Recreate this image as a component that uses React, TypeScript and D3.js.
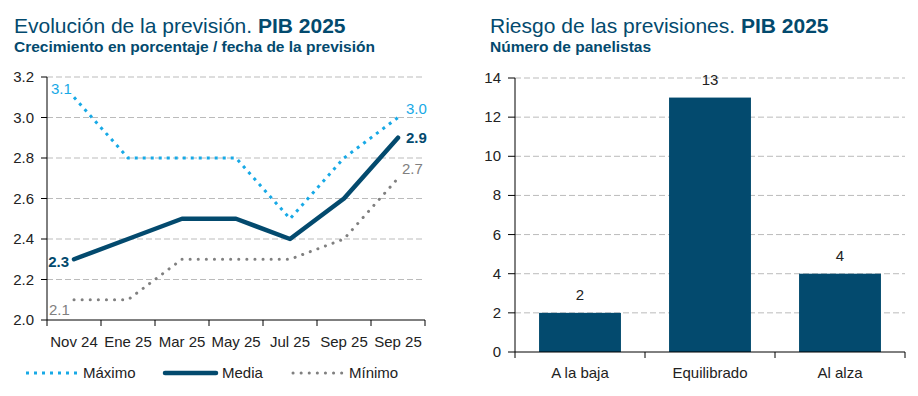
import React from 'react'
import * as d3 from 'd3'

// left chart: forecast evolution
const fechas = ['Nov 24', 'Ene 25', 'Mar 25', 'May 25', 'Jul 25', 'Sep 25', 'Sep 25 ']
const maximo = [3.1, 2.8, 2.8, 2.8, 2.5, 2.8, 3.0]
const media = [2.3, 2.4, 2.5, 2.5, 2.4, 2.6, 2.9]
const minimo = [2.1, 2.1, 2.3, 2.3, 2.3, 2.4, 2.7]
const leftTicks = [2.0, 2.2, 2.4, 2.6, 2.8, 3.0, 3.2]

// right chart: risk balance
const riesgos = ['A la baja', 'Equilibrado', 'Al alza']
const panelistas = [2, 13, 4]
const rightTicks = [0, 2, 4, 6, 8, 10, 12, 14]

const navy = '#034a6e'
const lightBlue = '#17a9e6'
const grey = '#808080'
const textCol = '#222'
const font = 'Liberation Sans, Arial, sans-serif'
const fs = 15

const LeftChart = () => {
  const x = d3.scaleBand<number>().domain(d3.range(fechas.length)).range([47, 425])
  const y = d3.scaleLinear().domain([2.0, 3.2]).range([320, 77])
  const cx = (i: number) => (x(i) as number) + x.bandwidth() / 2
  const line = d3
    .line<number>()
    .x((d, i) => cx(i))
    .y((d) => y(d))

  const last = fechas.length - 1
  const series = [
    { data: maximo, color: lightBlue, width: 3, dash: '3 5', cap: 'butt', bold: false, first: [-23, -3], end: [8, -3.5], anchorFirst: 'start' },
    { data: media, color: navy, width: 4.5, dash: '', cap: 'round', bold: true, first: [-5, 8], end: [8, 5], anchorFirst: 'end' },
    { data: minimo, color: grey, width: 3, dash: '0.1 8', cap: 'round', bold: false, first: [-25, 15], end: [4, -4.5], anchorFirst: 'start' },
  ]

  return (
    <g fontFamily={font}>
      <text x={14} y={33} fontSize={21} fill={navy}>
        Evolución de la previsión. <tspan fontWeight="bold">PIB 2025</tspan>
      </text>
      <text x={14} y={52} fontSize={15.5} fontWeight="bold" fill={navy}>
        Crecimiento en porcentaje / fecha de la previsión
      </text>

      {/* grid */}
      {leftTicks.slice(1).map((t) => (
        <line key={t} x1={47} x2={425} y1={y(t)} y2={y(t)} stroke="#bbb" strokeDasharray="6 3" />
      ))}

      {/* y axis */}
      <line x1={47} x2={47} y1={77} y2={320} stroke="#000" />
      {leftTicks.map((t) => (
        <g key={t}>
          <line x1={41} x2={47} y1={y(t)} y2={y(t)} stroke="#000" />
          <text x={34} y={y(t) + 5} fontSize={fs} textAnchor="end" fill={textCol}>
            {t.toFixed(1)}
          </text>
        </g>
      ))}

      {/* x axis */}
      <line x1={47} x2={425} y1={320} y2={320} stroke="#000" />
      {fechas.map((f, i) => (
        <g key={i}>
          <line x1={x(i)} x2={x(i)} y1={320} y2={326} stroke="#000" />
          <text x={cx(i)} y={347} fontSize={fs} textAnchor="middle" fill={textCol}>
            {f.trim()}
          </text>
        </g>
      ))}
      <line x1={425} x2={425} y1={320} y2={326} stroke="#000" />

      {/* lines */}
      {series.map((s, k) => (
        <g key={k}>
          <path
            d={line(s.data) || ''}
            fill="none"
            stroke={s.color}
            strokeWidth={s.width}
            strokeDasharray={s.dash || undefined}
            strokeLinecap={s.cap as any}
            strokeLinejoin="round"
          />
          <text
            x={cx(0) + s.first[0]}
            y={y(s.data[0]) + s.first[1]}
            fontSize={fs}
            fontWeight={s.bold ? 'bold' : 'normal'}
            textAnchor={s.anchorFirst}
            fill={s.color}
          >
            {s.data[0].toFixed(1)}
          </text>
          <text
            x={cx(last) + s.end[0]}
            y={y(s.data[last]) + s.end[1]}
            fontSize={fs}
            fontWeight={s.bold ? 'bold' : 'normal'}
            fill={s.color}
          >
            {s.data[last].toFixed(1)}
          </text>
        </g>
      ))}

      {/* legend */}
      <line x1={26} x2={77} y1={373} y2={373} stroke={lightBlue} strokeWidth={3} strokeDasharray="3 5" />
      <text x={83} y={378} fontSize={fs} fill={textCol}>Máximo</text>
      <line x1={165} x2={216} y1={373} y2={373} stroke={navy} strokeWidth={4.5} strokeLinecap="round" />
      <text x={222} y={378} fontSize={fs} fill={textCol}>Media</text>
      <line x1={293} x2={343} y1={373} y2={373} stroke={grey} strokeWidth={3} strokeDasharray="0.1 8" strokeLinecap="round" />
      <text x={349} y={378} fontSize={fs} fill={textCol}>Mínimo</text>
    </g>
  )
}

const RightChart = () => {
  const x = d3.scaleBand<string>().domain(riesgos).range([515, 905]).paddingInner(0.37).paddingOuter(0.185)
  const band = d3.scaleBand<string>().domain(riesgos).range([515, 905])
  const y = d3.scaleLinear().domain([0, 14]).range([352, 78])

  return (
    <g fontFamily={font}>
      <text x={490} y={33} fontSize={21} fill={navy}>
        Riesgo de las previsiones. <tspan fontWeight="bold">PIB 2025</tspan>
      </text>
      <text x={490} y={52} fontSize={15.5} fontWeight="bold" fill={navy}>
        Número de panelistas
      </text>

      {rightTicks.slice(1).map((t) => (
        <line key={t} x1={515} x2={905} y1={y(t)} y2={y(t)} stroke="#bbb" strokeDasharray="6 3" />
      ))}

      {riesgos.map((r, i) => (
        <g key={r}>
          <rect
            x={x(r)}
            y={y(panelistas[i])}
            width={x.bandwidth()}
            height={y(0) - y(panelistas[i])}
            fill={navy}
          />
          <text
            x={(x(r) as number) + x.bandwidth() / 2}
            y={y(panelistas[i]) - 13}
            fontSize={fs}
            textAnchor="middle"
            fill={textCol}
          >
            {panelistas[i]}
          </text>
          <line x1={band(r)} x2={band(r)} y1={352} y2={358} stroke="#000" />
          <text
            x={(band(r) as number) + band.bandwidth() / 2}
            y={378}
            fontSize={fs}
            textAnchor="middle"
            fill={textCol}
          >
            {r}
          </text>
        </g>
      ))}
      <line x1={905} x2={905} y1={352} y2={358} stroke="#000" />

      <line x1={515} x2={515} y1={78} y2={352} stroke="#000" />
      <line x1={515} x2={905} y1={352} y2={352} stroke="#000" />
      {rightTicks.map((t) => (
        <g key={t}>
          <line x1={508} x2={515} y1={y(t)} y2={y(t)} stroke="#000" />
          <text x={501} y={y(t) + 5} fontSize={fs} textAnchor="end" fill={textCol}>
            {t}
          </text>
        </g>
      ))}
    </g>
  )
}

export default function App() {
  return (
    <svg
      width={918}
      height={396}
      style={{ position: 'absolute', left: 0, top: 0, background: '#fff' }}
    >
      <LeftChart />
      <RightChart />
    </svg>
  )
}
